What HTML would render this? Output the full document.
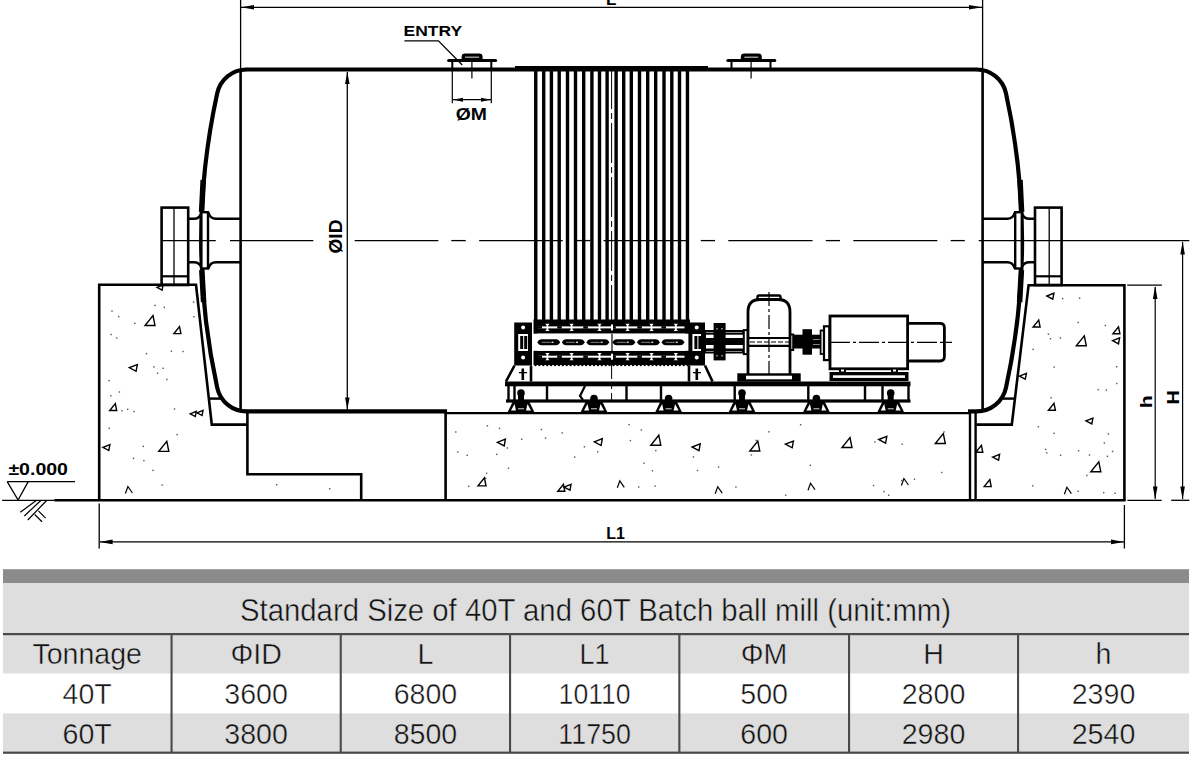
<!DOCTYPE html>
<html><head><meta charset="utf-8"><style>
html,body{margin:0;padding:0;background:#fff;width:1200px;height:760px;overflow:hidden}
svg{position:absolute;left:0;top:0;display:block}
text{font-family:"Liberation Sans",sans-serif}
</style></head><body>
<svg width="1200" height="760" viewBox="0 0 1200 760">
<line x1="240.6" y1="0" x2="240.6" y2="69" stroke="#000" stroke-width="1.3" />
<line x1="982.6" y1="0" x2="982.6" y2="69" stroke="#000" stroke-width="1.3" />
<line x1="241" y1="7.3" x2="982" y2="7.3" stroke="#000" stroke-width="1.3" />
<polygon points="241.0,7.3 254.0,5.1 254.0,9.5" fill="#000"/>
<polygon points="982.0,7.3 969.0,5.1 969.0,9.5" fill="#000"/>
<text x="606" y="4.7" font-family="Liberation Sans" font-weight="bold" font-size="17">L</text>
<g><path d="M 247 69.5 A 30 30 0 0 0 217.2 93.4 A 690 690 0 0 0 217.2 387.6 A 30 30 0 0 0 247 411.4" stroke="#000" stroke-width="4.2" fill="none"/>
<line x1="240.6" y1="69" x2="240.6" y2="411" stroke="#000" stroke-width="2.6"/>
<path d="M 240.6 218.8 L 216 218.8 Q 210 218.8 208.5 212.5 M 240.6 262.2 L 216 262.2 Q 210 262.2 208.5 268.5" stroke="#000" stroke-width="2.4" fill="none"/>
<rect x="201.4" y="212.2" width="6.6" height="56.3" fill="#fff" stroke="#000" stroke-width="2.4"/>
<path d="M 188.2 218.8 L 194 218.8 Q 199 218.8 201 214 M 188.2 262.2 L 194 262.2 Q 199 262.2 201 266.5" stroke="#000" stroke-width="2.4" fill="none"/>
<rect x="161.6" y="207.6" width="26.6" height="77.4" fill="none" stroke="#000" stroke-width="2.6"/>
<line x1="174" y1="207.6" x2="174" y2="285" stroke="#000" stroke-width="1.3"/>
<line x1="161.6" y1="276.3" x2="188.2" y2="276.3" stroke="#000" stroke-width="2.2"/>
<path d="M 203.2 180 L 201.6 212 M 201.8 270 L 203.6 302" stroke="#000" stroke-width="5.5" fill="none"/></g>
<g transform="translate(1223.2,0) scale(-1,1)"><path d="M 247 69.5 A 30 30 0 0 0 217.2 93.4 A 690 690 0 0 0 217.2 387.6 A 30 30 0 0 0 247 411.4" stroke="#000" stroke-width="4.2" fill="none"/>
<line x1="240.6" y1="69" x2="240.6" y2="411" stroke="#000" stroke-width="2.6"/>
<path d="M 240.6 218.8 L 216 218.8 Q 210 218.8 208.5 212.5 M 240.6 262.2 L 216 262.2 Q 210 262.2 208.5 268.5" stroke="#000" stroke-width="2.4" fill="none"/>
<rect x="201.4" y="212.2" width="6.6" height="56.3" fill="#fff" stroke="#000" stroke-width="2.4"/>
<path d="M 188.2 218.8 L 194 218.8 Q 199 218.8 201 214 M 188.2 262.2 L 194 262.2 Q 199 262.2 201 266.5" stroke="#000" stroke-width="2.4" fill="none"/>
<rect x="161.6" y="207.6" width="26.6" height="77.4" fill="none" stroke="#000" stroke-width="2.6"/>
<line x1="174" y1="207.6" x2="174" y2="285" stroke="#000" stroke-width="1.3"/>
<line x1="161.6" y1="276.3" x2="188.2" y2="276.3" stroke="#000" stroke-width="2.2"/>
<path d="M 203.2 180 L 201.6 212 M 201.8 270 L 203.6 302" stroke="#000" stroke-width="5.5" fill="none"/></g>
<line x1="246.5" y1="69.5" x2="976.7" y2="69.5" stroke="#000" stroke-width="4.2" />
<line x1="246.5" y1="411.4" x2="447" y2="411.4" stroke="#000" stroke-width="4.2" />
<line x1="968" y1="411.4" x2="976.7" y2="411.4" stroke="#000" stroke-width="4.2" />
<line x1="445" y1="413.1" x2="970" y2="413.1" stroke="#000" stroke-width="2.4" />
<rect x="515" y="66" width="193" height="2.5" fill="#000" stroke="none" stroke-width="0" />
<line x1="161.7" y1="240.6" x2="215.8" y2="240.6" stroke="#000" stroke-width="1.3" />
<line x1="230" y1="240.6" x2="313.3" y2="240.6" stroke="#000" stroke-width="1.3" />
<line x1="354.7" y1="240.6" x2="438.3" y2="240.6" stroke="#000" stroke-width="1.3" />
<line x1="451.3" y1="240.6" x2="465.8" y2="240.6" stroke="#000" stroke-width="1.3" />
<line x1="479.2" y1="240.6" x2="562.7" y2="240.6" stroke="#000" stroke-width="1.3" />
<line x1="576" y1="240.6" x2="590" y2="240.6" stroke="#000" stroke-width="1.3" />
<line x1="603.5" y1="240.6" x2="687" y2="240.6" stroke="#000" stroke-width="1.3" />
<line x1="700.8" y1="240.6" x2="715" y2="240.6" stroke="#000" stroke-width="1.3" />
<line x1="728.3" y1="240.6" x2="812.5" y2="240.6" stroke="#000" stroke-width="1.3" />
<line x1="825.8" y1="240.6" x2="840" y2="240.6" stroke="#000" stroke-width="1.3" />
<line x1="853.3" y1="240.6" x2="937.3" y2="240.6" stroke="#000" stroke-width="1.3" />
<line x1="950.7" y1="240.6" x2="964.8" y2="240.6" stroke="#000" stroke-width="1.3" />
<line x1="978.7" y1="240.6" x2="1189.3" y2="240.6" stroke="#000" stroke-width="1.3" />
<line x1="347.3" y1="72" x2="347.3" y2="411" stroke="#000" stroke-width="1.3" />
<polygon points="347.3,72.0 345.0,84.0 349.6,84.0" fill="#000"/>
<polygon points="347.3,409.5 345.0,397.5 349.6,397.5" fill="#000"/>
<text transform="translate(342,253.5) rotate(-90)" font-family="Liberation Sans" font-weight="bold" font-size="18" textLength="34" lengthAdjust="spacingAndGlyphs">ØID</text>
<rect x="447.1" y="59" width="50" height="3" rx="1.5" fill="#000"/>
<path d="M 461.6 60 L 461.6 57 Q 461.6 53.6 465.1 53.6 L 479.1 53.6 Q 482.6 53.6 482.6 57 L 482.6 60 Z" fill="#000"/>
<rect x="465.1" y="56.6" width="14" height="1.2" fill="#bbb"/>
<line x1="452.3" y1="61" x2="452.3" y2="69" stroke="#000" stroke-width="2"/>
<line x1="491.3" y1="61" x2="491.3" y2="69" stroke="#000" stroke-width="2"/>
<line x1="471.90000000000003" y1="62" x2="471.90000000000003" y2="78.5" stroke="#000" stroke-width="1.2"/>
<rect x="726.3" y="59" width="50" height="3" rx="1.5" fill="#000"/>
<path d="M 740.8 60 L 740.8 57 Q 740.8 53.6 744.3 53.6 L 758.3 53.6 Q 761.8 53.6 761.8 57 L 761.8 60 Z" fill="#000"/>
<rect x="744.3" y="56.6" width="14" height="1.2" fill="#bbb"/>
<line x1="731.5" y1="61" x2="731.5" y2="69" stroke="#000" stroke-width="2"/>
<line x1="770.5" y1="61" x2="770.5" y2="69" stroke="#000" stroke-width="2"/>
<line x1="751.0999999999999" y1="62" x2="751.0999999999999" y2="78.5" stroke="#000" stroke-width="1.2"/>
<text x="403.6" y="35.6" font-family="Liberation Sans" font-weight="bold" font-size="14.5" textLength="58.5" lengthAdjust="spacingAndGlyphs">ENTRY</text>
<path d="M 404.4 40.8 L 438.4 40.8 L 462.3 65" stroke="#000" stroke-width="1.3" fill="none" />
<line x1="452.3" y1="71" x2="452.3" y2="103.3" stroke="#000" stroke-width="1.2" />
<line x1="491.3" y1="71" x2="491.3" y2="103.3" stroke="#000" stroke-width="1.2" />
<line x1="453" y1="99.7" x2="491" y2="99.7" stroke="#000" stroke-width="1.2" />
<polygon points="453.0,99.7 463.0,97.7 463.0,101.7" fill="#000"/>
<polygon points="491.0,99.7 481.0,97.7 481.0,101.7" fill="#000"/>
<text x="455.8" y="119.6" font-family="Liberation Sans" font-weight="bold" font-size="16.2" textLength="31.2" lengthAdjust="spacingAndGlyphs">ØM</text>
<rect x="534.05" y="69" width="3.4" height="251" fill="#000" stroke="none" stroke-width="0" />
<rect x="685.75" y="69" width="3.4" height="251" fill="#000" stroke="none" stroke-width="0" />
<rect x="542.0" y="69" width="3.4" height="251" fill="#000" stroke="none" stroke-width="0" />
<rect x="677.8" y="69" width="3.4" height="251" fill="#000" stroke="none" stroke-width="0" />
<rect x="549.6999999999999" y="69" width="3.4" height="251" fill="#000" stroke="none" stroke-width="0" />
<rect x="670.1" y="69" width="3.4" height="251" fill="#000" stroke="none" stroke-width="0" />
<rect x="557.5" y="69" width="3.4" height="251" fill="#000" stroke="none" stroke-width="0" />
<rect x="662.3" y="69" width="3.4" height="251" fill="#000" stroke="none" stroke-width="0" />
<rect x="565.8" y="69" width="3.4" height="251" fill="#000" stroke="none" stroke-width="0" />
<rect x="654.0" y="69" width="3.4" height="251" fill="#000" stroke="none" stroke-width="0" />
<rect x="573.8" y="69" width="3.4" height="251" fill="#000" stroke="none" stroke-width="0" />
<rect x="646.0" y="69" width="3.4" height="251" fill="#000" stroke="none" stroke-width="0" />
<rect x="582.0" y="69" width="3.4" height="251" fill="#000" stroke="none" stroke-width="0" />
<rect x="637.8" y="69" width="3.4" height="251" fill="#000" stroke="none" stroke-width="0" />
<rect x="590.1999999999999" y="69" width="3.4" height="251" fill="#000" stroke="none" stroke-width="0" />
<rect x="629.6" y="69" width="3.4" height="251" fill="#000" stroke="none" stroke-width="0" />
<rect x="597.8" y="69" width="3.4" height="251" fill="#000" stroke="none" stroke-width="0" />
<rect x="622.0" y="69" width="3.4" height="251" fill="#000" stroke="none" stroke-width="0" />
<rect x="605.4" y="69" width="3.4" height="251" fill="#000" stroke="none" stroke-width="0" />
<rect x="614.4" y="69" width="3.4" height="251" fill="#000" stroke="none" stroke-width="0" />
<line x1="611.6" y1="69" x2="611.6" y2="400" stroke="#000" stroke-width="1" stroke-dasharray="40 4 6 4"/>
<rect x="533.5" y="319.5" width="156.5" height="14.2" fill="#000" stroke="none" stroke-width="0" />
<rect x="533.5" y="350.8" width="156.5" height="14.2" fill="#000" stroke="none" stroke-width="0" />
<rect x="538" y="326.4" width="146.5" height="2.0" fill="#fff" stroke="none" stroke-width="0" />
<rect x="557.2" y="326.2" width="4.6" height="2.4" fill="#000" stroke="none" stroke-width="0" />
<rect x="583.25" y="326.2" width="4.6" height="2.4" fill="#000" stroke="none" stroke-width="0" />
<rect x="611.25" y="326.2" width="4.6" height="2.4" fill="#000" stroke="none" stroke-width="0" />
<rect x="637.25" y="326.2" width="4.6" height="2.4" fill="#000" stroke="none" stroke-width="0" />
<rect x="661.35" y="326.2" width="4.6" height="2.4" fill="#000" stroke="none" stroke-width="0" />
<rect x="536" y="326.2" width="6" height="2.4" fill="#000" stroke="none" stroke-width="0" />
<path d="M 545.1999999999999 323.79999999999995 L 549.6 323.79999999999995 L 548.3 325.2 L 548.3 329.59999999999997 L 549.6 331.0 L 545.1999999999999 331.0 L 546.5 329.59999999999997 L 546.5 325.2 Z" fill="#fff"/>
<path d="M 569.4 323.79999999999995 L 573.8000000000001 323.79999999999995 L 572.5 325.2 L 572.5 329.59999999999997 L 573.8000000000001 331.0 L 569.4 331.0 L 570.7 329.59999999999997 L 570.7 325.2 Z" fill="#fff"/>
<path d="M 597.3 323.79999999999995 L 601.7 323.79999999999995 L 600.4 325.2 L 600.4 329.59999999999997 L 601.7 331.0 L 597.3 331.0 L 598.6 329.59999999999997 L 598.6 325.2 Z" fill="#fff"/>
<path d="M 625.4 323.79999999999995 L 629.8000000000001 323.79999999999995 L 628.5 325.2 L 628.5 329.59999999999997 L 629.8000000000001 331.0 L 625.4 331.0 L 626.7 329.59999999999997 L 626.7 325.2 Z" fill="#fff"/>
<path d="M 649.3 323.79999999999995 L 653.7 323.79999999999995 L 652.4 325.2 L 652.4 329.59999999999997 L 653.7 331.0 L 649.3 331.0 L 650.6 329.59999999999997 L 650.6 325.2 Z" fill="#fff"/>
<path d="M 673.5999999999999 323.79999999999995 L 678.0 323.79999999999995 L 676.6999999999999 325.2 L 676.6999999999999 329.59999999999997 L 678.0 331.0 L 673.5999999999999 331.0 L 674.9 329.59999999999997 L 674.9 325.2 Z" fill="#fff"/>
<rect x="611" y="324.4" width="2" height="6" fill="#fff" stroke="none" stroke-width="0" />
<rect x="538" y="355.7" width="146.5" height="2.0" fill="#fff" stroke="none" stroke-width="0" />
<rect x="557.2" y="355.5" width="4.6" height="2.4" fill="#000" stroke="none" stroke-width="0" />
<rect x="583.25" y="355.5" width="4.6" height="2.4" fill="#000" stroke="none" stroke-width="0" />
<rect x="611.25" y="355.5" width="4.6" height="2.4" fill="#000" stroke="none" stroke-width="0" />
<rect x="637.25" y="355.5" width="4.6" height="2.4" fill="#000" stroke="none" stroke-width="0" />
<rect x="661.35" y="355.5" width="4.6" height="2.4" fill="#000" stroke="none" stroke-width="0" />
<rect x="536" y="355.5" width="6" height="2.4" fill="#000" stroke="none" stroke-width="0" />
<path d="M 545.1999999999999 353.09999999999997 L 549.6 353.09999999999997 L 548.3 354.5 L 548.3 358.9 L 549.6 360.3 L 545.1999999999999 360.3 L 546.5 358.9 L 546.5 354.5 Z" fill="#fff"/>
<path d="M 569.4 353.09999999999997 L 573.8000000000001 353.09999999999997 L 572.5 354.5 L 572.5 358.9 L 573.8000000000001 360.3 L 569.4 360.3 L 570.7 358.9 L 570.7 354.5 Z" fill="#fff"/>
<path d="M 597.3 353.09999999999997 L 601.7 353.09999999999997 L 600.4 354.5 L 600.4 358.9 L 601.7 360.3 L 597.3 360.3 L 598.6 358.9 L 598.6 354.5 Z" fill="#fff"/>
<path d="M 625.4 353.09999999999997 L 629.8000000000001 353.09999999999997 L 628.5 354.5 L 628.5 358.9 L 629.8000000000001 360.3 L 625.4 360.3 L 626.7 358.9 L 626.7 354.5 Z" fill="#fff"/>
<path d="M 649.3 353.09999999999997 L 653.7 353.09999999999997 L 652.4 354.5 L 652.4 358.9 L 653.7 360.3 L 649.3 360.3 L 650.6 358.9 L 650.6 354.5 Z" fill="#fff"/>
<path d="M 673.5999999999999 353.09999999999997 L 678.0 353.09999999999997 L 676.6999999999999 354.5 L 676.6999999999999 358.9 L 678.0 360.3 L 673.5999999999999 360.3 L 674.9 358.9 L 674.9 354.5 Z" fill="#fff"/>
<rect x="611" y="353.7" width="2" height="6" fill="#fff" stroke="none" stroke-width="0" />
<rect x="537" y="333.6" width="148.5" height="17.2" fill="#fff" stroke="none" stroke-width="0" />
<line x1="612" y1="334" x2="612" y2="351" stroke="#000" stroke-width="1.2" />
<path d="M 537.5 342.3 Q 538.5 339.3 541.5 339.3 L 556.0 339.3 Q 559.0 339.3 560.0 342.3 Q 559.0 345.3 556.0 345.3 L 541.5 345.3 Q 538.5 345.3 537.5 342.3 Z" fill="#000"/>
<rect x="541.5" y="341.8" width="9" height="1.1" fill="#777"/>
<rect x="551.5" y="341.6" width="2" height="1.4" fill="#ddd"/>
<path d="M 562.05 342.3 Q 563.05 339.3 566.05 339.3 L 580.55 339.3 Q 583.55 339.3 584.55 342.3 Q 583.55 345.3 580.55 345.3 L 566.05 345.3 Q 563.05 345.3 562.05 342.3 Z" fill="#000"/>
<rect x="566.05" y="341.8" width="9" height="1.1" fill="#777"/>
<rect x="576.05" y="341.6" width="2" height="1.4" fill="#ddd"/>
<path d="M 586.6 342.3 Q 587.6 339.3 590.6 339.3 L 605.1 339.3 Q 608.1 339.3 609.1 342.3 Q 608.1 345.3 605.1 345.3 L 590.6 345.3 Q 587.6 345.3 586.6 342.3 Z" fill="#000"/>
<rect x="590.6" y="341.8" width="9" height="1.1" fill="#777"/>
<rect x="600.6" y="341.6" width="2" height="1.4" fill="#ddd"/>
<path d="M 612.65 342.3 Q 613.65 339.3 616.65 339.3 L 631.15 339.3 Q 634.15 339.3 635.15 342.3 Q 634.15 345.3 631.15 345.3 L 616.65 345.3 Q 613.65 345.3 612.65 342.3 Z" fill="#000"/>
<rect x="616.65" y="341.8" width="9" height="1.1" fill="#777"/>
<rect x="626.65" y="341.6" width="2" height="1.4" fill="#ddd"/>
<path d="M 637.2 342.3 Q 638.2 339.3 641.2 339.3 L 655.7 339.3 Q 658.7 339.3 659.7 342.3 Q 658.7 345.3 655.7 345.3 L 641.2 345.3 Q 638.2 345.3 637.2 342.3 Z" fill="#000"/>
<rect x="641.2" y="341.8" width="9" height="1.1" fill="#777"/>
<rect x="651.2" y="341.6" width="2" height="1.4" fill="#ddd"/>
<path d="M 661.75 342.3 Q 662.75 339.3 665.75 339.3 L 680.25 339.3 Q 683.25 339.3 684.25 342.3 Q 683.25 345.3 680.25 345.3 L 665.75 345.3 Q 662.75 345.3 661.75 342.3 Z" fill="#000"/>
<rect x="665.75" y="341.8" width="9" height="1.1" fill="#777"/>
<rect x="675.75" y="341.6" width="2" height="1.4" fill="#ddd"/>
<circle cx="535.5" cy="365" r="1.2" fill="#000"/>
<circle cx="539.4" cy="365" r="1.2" fill="#000"/>
<circle cx="543.3" cy="365" r="1.2" fill="#000"/>
<circle cx="547.2" cy="365" r="1.2" fill="#000"/>
<circle cx="551.1" cy="365" r="1.2" fill="#000"/>
<circle cx="555.0" cy="365" r="1.2" fill="#000"/>
<circle cx="558.9" cy="365" r="1.2" fill="#000"/>
<circle cx="562.8" cy="365" r="1.2" fill="#000"/>
<circle cx="566.7" cy="365" r="1.2" fill="#000"/>
<circle cx="570.6" cy="365" r="1.2" fill="#000"/>
<circle cx="574.5" cy="365" r="1.2" fill="#000"/>
<circle cx="578.4" cy="365" r="1.2" fill="#000"/>
<circle cx="582.3" cy="365" r="1.2" fill="#000"/>
<circle cx="586.2" cy="365" r="1.2" fill="#000"/>
<circle cx="590.1" cy="365" r="1.2" fill="#000"/>
<circle cx="594.0" cy="365" r="1.2" fill="#000"/>
<circle cx="597.9" cy="365" r="1.2" fill="#000"/>
<circle cx="601.8" cy="365" r="1.2" fill="#000"/>
<circle cx="605.7" cy="365" r="1.2" fill="#000"/>
<circle cx="609.6" cy="365" r="1.2" fill="#000"/>
<circle cx="613.5" cy="365" r="1.2" fill="#000"/>
<circle cx="617.4" cy="365" r="1.2" fill="#000"/>
<circle cx="621.3" cy="365" r="1.2" fill="#000"/>
<circle cx="625.2" cy="365" r="1.2" fill="#000"/>
<circle cx="629.1" cy="365" r="1.2" fill="#000"/>
<circle cx="633.0" cy="365" r="1.2" fill="#000"/>
<circle cx="636.9" cy="365" r="1.2" fill="#000"/>
<circle cx="640.8" cy="365" r="1.2" fill="#000"/>
<circle cx="644.7" cy="365" r="1.2" fill="#000"/>
<circle cx="648.6" cy="365" r="1.2" fill="#000"/>
<circle cx="652.5" cy="365" r="1.2" fill="#000"/>
<circle cx="656.4" cy="365" r="1.2" fill="#000"/>
<circle cx="660.3" cy="365" r="1.2" fill="#000"/>
<circle cx="664.2" cy="365" r="1.2" fill="#000"/>
<circle cx="668.1" cy="365" r="1.2" fill="#000"/>
<circle cx="672.0" cy="365" r="1.2" fill="#000"/>
<circle cx="675.9" cy="365" r="1.2" fill="#000"/>
<circle cx="679.8" cy="365" r="1.2" fill="#000"/>
<circle cx="683.7" cy="365" r="1.2" fill="#000"/>
<circle cx="687.6" cy="365" r="1.2" fill="#000"/>
<rect x="514.2" y="322.5" width="17.799999999999955" height="43" fill="#000"/>
<rect x="518.2" y="334" width="9.799999999999955" height="17" fill="#fff"/>
<rect x="520.2" y="336" width="3" height="13" fill="#000"/>
<rect x="524.2" y="336" width="3" height="13" fill="#000"/>
<circle cx="523.1" cy="327.5" r="2" fill="#fff"/>
<circle cx="523.1" cy="357.5" r="2" fill="#fff"/>
<rect x="688.4" y="322.5" width="16.600000000000023" height="43" fill="#000"/>
<rect x="692.4" y="334" width="8.600000000000023" height="17" fill="#fff"/>
<rect x="694.4" y="336" width="3" height="13" fill="#000"/>
<rect x="698.4" y="336" width="3" height="13" fill="#000"/>
<circle cx="696.7" cy="327.5" r="2" fill="#fff"/>
<circle cx="696.7" cy="357.5" r="2" fill="#fff"/>
<path d="M 514.5 365.5 L 506 381.5 M 531 365.5 L 531 381.5" stroke="#000" stroke-width="2.6" fill="none" />
<rect x="521.5" y="368.5" width="2.6" height="11.5" fill="#000" stroke="none" stroke-width="0" />
<rect x="519" y="372" width="8" height="1.3" fill="#000" stroke="none" stroke-width="0" />
<path d="M 689 365.5 L 689 381.5 M 705 365.5 L 712.5 381.5" stroke="#000" stroke-width="2.6" fill="none" />
<rect x="695.5" y="368.5" width="2.6" height="11.5" fill="#000" stroke="none" stroke-width="0" />
<rect x="693" y="372" width="8" height="1.3" fill="#000" stroke="none" stroke-width="0" />
<rect x="705" y="330" width="38" height="23.5" fill="#000" stroke="none" stroke-width="0" />
<rect x="706" y="334.7" width="37" height="3.3" fill="#fff" stroke="none" stroke-width="0" />
<rect x="706" y="345" width="37" height="3.5" fill="#fff" stroke="none" stroke-width="0" />
<rect x="706" y="332.2" width="36" height="0.8" fill="#aaa" stroke="none" stroke-width="0" />
<rect x="706" y="351" width="36" height="0.8" fill="#aaa" stroke="none" stroke-width="0" />
<rect x="713.6" y="323" width="12" height="37.4" fill="#000" stroke="none" stroke-width="0" />
<rect x="719.2" y="334.7" width="1.4" height="3.3" fill="#000" stroke="none" stroke-width="0" />
<rect x="719.2" y="345" width="1.4" height="3.5" fill="#000" stroke="none" stroke-width="0" />
<rect x="716" y="328" width="2" height="1.5" fill="#777" stroke="none" stroke-width="0" />
<rect x="721" y="328" width="2" height="1.5" fill="#777" stroke="none" stroke-width="0" />
<rect x="716" y="355" width="2" height="1.5" fill="#777" stroke="none" stroke-width="0" />
<rect x="721" y="355" width="2" height="1.5" fill="#777" stroke="none" stroke-width="0" />
<rect x="743.8" y="330.1" width="4" height="24" fill="#fff" stroke="#000" stroke-width="2" />
<path d="M 748 374 L 748 312 Q 748 299.5 760 299.5 L 778 299.5 Q 790 299.5 790 312 L 790 374" stroke="#000" stroke-width="2.8" fill="none" />
<path d="M 757.5 299 L 757.5 297 Q 757.5 295.5 759 295.5 L 779 295.5 Q 780.5 295.5 780.5 297 L 780.5 299" stroke="#000" stroke-width="2.4" fill="none" />
<rect x="738.5" y="374.5" width="61" height="6" fill="#fff" stroke="#000" stroke-width="2.4" />
<rect x="738" y="374" width="8" height="7" fill="#000" stroke="none" stroke-width="0" />
<rect x="792" y="374" width="8" height="7" fill="#000" stroke="none" stroke-width="0" />
<line x1="748" y1="338" x2="790" y2="338" stroke="#000" stroke-width="2.2" />
<line x1="748" y1="345.8" x2="790" y2="345.8" stroke="#000" stroke-width="2.2" />
<line x1="750" y1="342" x2="790" y2="342" stroke="#000" stroke-width="1" stroke-dasharray="5 2"/>
<line x1="769" y1="292" x2="769" y2="374" stroke="#000" stroke-width="1.2" stroke-dasharray="14 3 3 3"/>
<rect x="790" y="334.5" width="3.2" height="15.5" fill="none" stroke="#000" stroke-width="2" />
<rect x="793" y="334.7" width="29" height="13.8" fill="#000" stroke="none" stroke-width="0" />
<rect x="802.5" y="329.2" width="9.5" height="25.5" fill="#000" stroke="none" stroke-width="0" />
<rect x="813" y="339" width="8" height="1" fill="#888" stroke="none" stroke-width="0" />
<rect x="813" y="344" width="8" height="1" fill="#888" stroke="none" stroke-width="0" />
<rect x="820.6" y="330.5" width="3.2" height="23.5" fill="#fff" stroke="#000" stroke-width="1.8" />
<rect x="824" y="326.3" width="5.4" height="33.8" fill="#fff" stroke="#000" stroke-width="2.2" />
<rect x="830" y="316" width="77.6" height="52.8" fill="none" stroke="#000" stroke-width="2.8" />
<path d="M 907.6 323.4 L 940 323.4 Q 944.4 323.4 944.4 327.8 L 944.4 356.6 Q 944.4 361 940 361 L 907.6 361" stroke="#000" stroke-width="2.8" fill="none" />
<line x1="830" y1="342.3" x2="952" y2="342.3" stroke="#000" stroke-width="1.3" stroke-dasharray="20 3 3 3"/>
<rect x="829.5" y="372" width="79" height="9" fill="#000" stroke="none" stroke-width="0" />
<rect x="833" y="375.3" width="72" height="2.6" fill="#fff" stroke="none" stroke-width="0" />
<rect x="839" y="368" width="7" height="4.5" fill="#000" stroke="none" stroke-width="0" />
<rect x="891" y="368" width="7" height="4.5" fill="#000" stroke="none" stroke-width="0" />
<rect x="841" y="369.5" width="3" height="2" fill="#fff" stroke="none" stroke-width="0" />
<rect x="893" y="369.5" width="3" height="2" fill="#fff" stroke="none" stroke-width="0" />
<rect x="505" y="381.5" width="405.5" height="4.8" fill="#000" stroke="none" stroke-width="0" />
<rect x="506" y="399.4" width="404.5" height="3.2" fill="#000" stroke="none" stroke-width="0" />
<rect x="507.3" y="386" width="2.4" height="14" fill="#000" stroke="none" stroke-width="0" />
<rect x="513.3" y="386" width="2.4" height="14" fill="#000" stroke="none" stroke-width="0" />
<rect x="545.8" y="386" width="2.4" height="14" fill="#000" stroke="none" stroke-width="0" />
<rect x="625.3" y="386" width="2.4" height="14" fill="#000" stroke="none" stroke-width="0" />
<rect x="659.8" y="386" width="2.4" height="14" fill="#000" stroke="none" stroke-width="0" />
<rect x="733.5" y="386" width="2.4" height="14" fill="#000" stroke="none" stroke-width="0" />
<rect x="807.0999999999999" y="386" width="2.4" height="14" fill="#000" stroke="none" stroke-width="0" />
<rect x="863.8" y="386" width="2.4" height="14" fill="#000" stroke="none" stroke-width="0" />
<rect x="881.3" y="386" width="2.4" height="14" fill="#000" stroke="none" stroke-width="0" />
<rect x="907.3" y="386" width="2.4" height="14" fill="#000" stroke="none" stroke-width="0" />
<path d="M 585 386 L 580 396 L 583 400" stroke="#000" stroke-width="2.2" fill="none" />
<polygon points="507.5,412.5 513,401 529,401 534.5,412.5" fill="#000"/>
<polygon points="511,410.5 514.5,404 516,410.5" fill="#fff"/>
<polygon points="531,410.5 527.5,404 526,410.5" fill="#fff"/>
<circle cx="521" cy="393" r="3.8" fill="#000"/>
<rect x="518" y="393" width="6" height="9" fill="#000"/>
<rect x="518" y="408" width="6" height="1.4" fill="#999"/>
<polygon points="580.5,412.5 586,401 602,401 607.5,412.5" fill="#000"/>
<polygon points="584,410.5 587.5,404 589,410.5" fill="#fff"/>
<polygon points="604,410.5 600.5,404 599,410.5" fill="#fff"/>
<circle cx="594" cy="398.5" r="3.8" fill="#000"/>
<rect x="591" y="398.5" width="6" height="3.5" fill="#000"/>
<rect x="591" y="408" width="6" height="1.4" fill="#999"/>
<polygon points="655.1,412.5 660.6,401 676.6,401 682.1,412.5" fill="#000"/>
<polygon points="658.6,410.5 662.1,404 663.6,410.5" fill="#fff"/>
<polygon points="678.6,410.5 675.1,404 673.6,410.5" fill="#fff"/>
<circle cx="668.6" cy="398.5" r="3.8" fill="#000"/>
<rect x="665.6" y="398.5" width="6" height="3.5" fill="#000"/>
<rect x="665.6" y="408" width="6" height="1.4" fill="#999"/>
<polygon points="728.5,412.5 734,401 750,401 755.5,412.5" fill="#000"/>
<polygon points="732,410.5 735.5,404 737,410.5" fill="#fff"/>
<polygon points="752,410.5 748.5,404 747,410.5" fill="#fff"/>
<circle cx="742" cy="393" r="3.8" fill="#000"/>
<rect x="739" y="393" width="6" height="9" fill="#000"/>
<rect x="739" y="408" width="6" height="1.4" fill="#999"/>
<polygon points="802.9,412.5 808.4,401 824.4,401 829.9,412.5" fill="#000"/>
<polygon points="806.4,410.5 809.9,404 811.4,410.5" fill="#fff"/>
<polygon points="826.4,410.5 822.9,404 821.4,410.5" fill="#fff"/>
<circle cx="816.4" cy="398.5" r="3.8" fill="#000"/>
<rect x="813.4" y="398.5" width="6" height="3.5" fill="#000"/>
<rect x="813.4" y="408" width="6" height="1.4" fill="#999"/>
<polygon points="877.2,412.5 882.7,401 898.7,401 904.2,412.5" fill="#000"/>
<polygon points="880.7,410.5 884.2,404 885.7,410.5" fill="#fff"/>
<polygon points="900.7,410.5 897.2,404 895.7,410.5" fill="#fff"/>
<circle cx="890.7" cy="393" r="3.8" fill="#000"/>
<rect x="887.7" y="393" width="6" height="9" fill="#000"/>
<rect x="887.7" y="408" width="6" height="1.4" fill="#999"/>
<path d="M 99.2 501 L 99.2 284.8 L 196 284.8 L 211.8 424.6 L 247.5 424.6" stroke="#000" stroke-width="2.6" fill="none" />
<line x1="208.5" y1="398.6" x2="221" y2="398.6" stroke="#000" stroke-width="2.4" />
<path d="M 247.4 412 L 247.4 474.2 L 361.2 474.2 L 361.2 501" stroke="#000" stroke-width="2.6" fill="none" />
<line x1="445.6" y1="412" x2="445.6" y2="501" stroke="#000" stroke-width="2.6" />
<path d="M 1124.4 501 L 1124.4 285.2 L 1028.6 285.2 L 1011.8 424.6 L 976.3 424.6" stroke="#000" stroke-width="2.6" fill="none" />
<line x1="1002" y1="398.6" x2="1014.5" y2="398.6" stroke="#000" stroke-width="2.4" />
<line x1="970.0" y1="412" x2="970.0" y2="501" stroke="#000" stroke-width="2.4" />
<line x1="975.6" y1="412" x2="975.6" y2="501" stroke="#000" stroke-width="2.4" />
<line x1="54.3" y1="500.3" x2="1125.5" y2="500.3" stroke="#000" stroke-width="2.6" />
<line x1="2.2" y1="500.3" x2="54.3" y2="500.3" stroke="#000" stroke-width="1.3" />
<polygon points="145.0,325.5 155.0,325.5 153.0,315.5" stroke="#000" stroke-width="1.4" fill="none"/>
<polygon points="173.9,333.6 180.9,333.6 179.5,326.6" stroke="#000" stroke-width="1.4" fill="none"/>
<polygon points="129.3,367.7 137.3,364.5 136.1,371.3" stroke="#000" stroke-width="1.4" fill="none"/>
<polygon points="109.7,410.5 116.7,410.5 115.3,403.5" stroke="#000" stroke-width="1.4" fill="none"/>
<polygon points="158.8,451.4 168.8,451.4 166.8,441.4" stroke="#000" stroke-width="1.4" fill="none"/>
<polygon points="102.9,447.4 109.9,444.6 108.8,450.5" stroke="#000" stroke-width="1.4" fill="none"/>
<polygon points="190.2,413.8 196.2,411.4 195.3,416.5" stroke="#000" stroke-width="1.4" fill="none"/>
<polygon points="197.0,412.8 203.0,410.4 202.1,415.5" stroke="#000" stroke-width="1.4" fill="none"/>
<path d="M 125.4 493.5 L 127.9 486.5 L 132.4 493" stroke="#000" stroke-width="1.2" fill="none"/>
<polygon points="157.0,287.4 163.0,285.0 162.1,290.1" stroke="#000" stroke-width="1.4" fill="none"/>
<polygon points="497.4,442.3 505.4,439.1 504.2,445.9" stroke="#000" stroke-width="1.4" fill="none"/>
<polygon points="478.0,485.9 486.0,485.9 484.4,477.9" stroke="#000" stroke-width="1.4" fill="none"/>
<polygon points="557.8,491.3 564.8,491.3 563.4,484.3" stroke="#000" stroke-width="1.4" fill="none"/>
<polygon points="564.0,487.1 571.0,484.3 570.0,490.2" stroke="#000" stroke-width="1.4" fill="none"/>
<polygon points="594.3,441.9 602.3,438.7 601.1,445.5" stroke="#000" stroke-width="1.4" fill="none"/>
<polygon points="650.8,445.2 660.8,445.2 658.8,435.2" stroke="#000" stroke-width="1.4" fill="none"/>
<path d="M 617.3 487.8 L 619.8 480.8 L 624.3 487.3" stroke="#000" stroke-width="1.2" fill="none"/>
<polygon points="692.2,447.0 700.2,443.8 699.0,450.6" stroke="#000" stroke-width="1.4" fill="none"/>
<polygon points="749.8,451.0 759.8,451.0 757.8,441.0" stroke="#000" stroke-width="1.4" fill="none"/>
<polygon points="785.4,444.2 793.4,441.0 792.2,447.8" stroke="#000" stroke-width="1.4" fill="none"/>
<polygon points="842.0,447.5 852.0,447.5 850.0,437.5" stroke="#000" stroke-width="1.4" fill="none"/>
<polygon points="878.8,439.5 886.8,436.3 885.6,443.1" stroke="#000" stroke-width="1.4" fill="none"/>
<polygon points="935.3,443.5 945.3,443.5 943.3,433.5" stroke="#000" stroke-width="1.4" fill="none"/>
<path d="M 715.2 493.7 L 717.7 486.7 L 722.2 493.2" stroke="#000" stroke-width="1.2" fill="none"/>
<path d="M 808.0 490.2 L 810.5 483.2 L 815.0 489.7" stroke="#000" stroke-width="1.2" fill="none"/>
<path d="M 901.4 485.5 L 903.9 478.5 L 908.4 485" stroke="#000" stroke-width="1.2" fill="none"/>
<polygon points="1046.9,296.0 1053.9,293.2 1052.8,299.1" stroke="#000" stroke-width="1.4" fill="none"/>
<polygon points="1033.1,327.0 1040.1,327.0 1038.7,320.0" stroke="#000" stroke-width="1.4" fill="none"/>
<polygon points="1076.3,345.8 1086.3,345.8 1084.3,335.8" stroke="#000" stroke-width="1.4" fill="none"/>
<polygon points="1112.9,333.8 1119.9,333.8 1118.5,326.8" stroke="#000" stroke-width="1.4" fill="none"/>
<polygon points="1112.6,340.6 1119.6,337.8 1118.5,343.8" stroke="#000" stroke-width="1.4" fill="none"/>
<polygon points="1019.4,376.1 1026.4,373.3 1025.3,379.2" stroke="#000" stroke-width="1.4" fill="none"/>
<polygon points="1048.4,410.3 1055.4,410.3 1054.0,403.3" stroke="#000" stroke-width="1.4" fill="none"/>
<polygon points="1085.9,420.8 1092.9,418.0 1091.8,423.9" stroke="#000" stroke-width="1.4" fill="none"/>
<polygon points="1090.8,471.8 1100.8,471.8 1098.8,461.8" stroke="#000" stroke-width="1.4" fill="none"/>
<polygon points="975.8,452.3 982.8,452.3 981.4,445.3" stroke="#000" stroke-width="1.4" fill="none"/>
<polygon points="992.6,457.1 999.6,454.3 998.6,460.2" stroke="#000" stroke-width="1.4" fill="none"/>
<polygon points="984.2,486.6 991.2,486.6 989.8,479.6" stroke="#000" stroke-width="1.4" fill="none"/>
<path d="M 1064.4 494.2 L 1066.9 487.2 L 1071.4 493.7" stroke="#000" stroke-width="1.2" fill="none"/>
<rect x="134.1" y="322.6" width="1.4" height="1.4" fill="#555"/>
<rect x="163.6" y="306.7" width="1.4" height="1.4" fill="#555"/>
<rect x="153.2" y="366.2" width="1.4" height="1.4" fill="#555"/>
<rect x="110.2" y="395.0" width="1.4" height="1.4" fill="#555"/>
<rect x="108.4" y="380.0" width="1.4" height="1.4" fill="#555"/>
<rect x="111.3" y="310.4" width="1.4" height="1.4" fill="#555"/>
<rect x="143.2" y="459.9" width="1.4" height="1.4" fill="#555"/>
<rect x="116.1" y="337.3" width="1.4" height="1.4" fill="#555"/>
<rect x="161.5" y="484.4" width="1.4" height="1.4" fill="#555"/>
<rect x="156.9" y="372.5" width="1.4" height="1.4" fill="#555"/>
<rect x="192.9" y="301.5" width="1.4" height="1.4" fill="#555"/>
<rect x="182.3" y="350.8" width="1.4" height="1.4" fill="#555"/>
<rect x="118.0" y="315.9" width="1.4" height="1.4" fill="#555"/>
<rect x="132.8" y="457.7" width="1.4" height="1.4" fill="#555"/>
<rect x="121.3" y="410.1" width="1.4" height="1.4" fill="#555"/>
<rect x="162.5" y="367.6" width="1.4" height="1.4" fill="#555"/>
<rect x="154.3" y="304.7" width="1.4" height="1.4" fill="#555"/>
<rect x="110.4" y="333.8" width="1.4" height="1.4" fill="#555"/>
<rect x="166.2" y="378.8" width="1.4" height="1.4" fill="#555"/>
<rect x="133.3" y="410.9" width="1.4" height="1.4" fill="#555"/>
<rect x="145.8" y="352.9" width="1.4" height="1.4" fill="#555"/>
<rect x="176.5" y="433.9" width="1.4" height="1.4" fill="#555"/>
<rect x="127.0" y="408.6" width="1.4" height="1.4" fill="#555"/>
<rect x="152.3" y="469.7" width="1.4" height="1.4" fill="#555"/>
<rect x="170.7" y="350.5" width="1.4" height="1.4" fill="#555"/>
<rect x="193.2" y="316.0" width="1.4" height="1.4" fill="#555"/>
<rect x="142.6" y="445.7" width="1.4" height="1.4" fill="#555"/>
<rect x="118.7" y="391.3" width="1.4" height="1.4" fill="#555"/>
<rect x="108.5" y="427.6" width="1.4" height="1.4" fill="#555"/>
<rect x="173.8" y="408.3" width="1.4" height="1.4" fill="#555"/>
<rect x="276.0" y="484.0" width="1.4" height="1.4" fill="#555"/>
<rect x="329.0" y="488.0" width="1.4" height="1.4" fill="#555"/>
<rect x="901.5" y="443.5" width="1.4" height="1.4" fill="#555"/>
<rect x="809.6" y="464.6" width="1.4" height="1.4" fill="#555"/>
<rect x="750.7" y="454.2" width="1.4" height="1.4" fill="#555"/>
<rect x="883.4" y="490.9" width="1.4" height="1.4" fill="#555"/>
<rect x="696.8" y="469.8" width="1.4" height="1.4" fill="#555"/>
<rect x="485.9" y="472.6" width="1.4" height="1.4" fill="#555"/>
<rect x="785.0" y="494.5" width="1.4" height="1.4" fill="#555"/>
<rect x="874.2" y="441.3" width="1.4" height="1.4" fill="#555"/>
<rect x="651.8" y="470.1" width="1.4" height="1.4" fill="#555"/>
<rect x="466.5" y="454.6" width="1.4" height="1.4" fill="#555"/>
<rect x="540.7" y="428.8" width="1.4" height="1.4" fill="#555"/>
<rect x="485.1" y="477.6" width="1.4" height="1.4" fill="#555"/>
<rect x="521.0" y="438.6" width="1.4" height="1.4" fill="#555"/>
<rect x="654.4" y="485.4" width="1.4" height="1.4" fill="#555"/>
<rect x="496.1" y="453.7" width="1.4" height="1.4" fill="#555"/>
<rect x="735.2" y="486.3" width="1.4" height="1.4" fill="#555"/>
<rect x="872.8" y="484.8" width="1.4" height="1.4" fill="#555"/>
<rect x="597.0" y="451.1" width="1.4" height="1.4" fill="#555"/>
<rect x="638.0" y="486.3" width="1.4" height="1.4" fill="#555"/>
<rect x="943.4" y="431.3" width="1.4" height="1.4" fill="#555"/>
<rect x="544.9" y="437.4" width="1.4" height="1.4" fill="#555"/>
<rect x="574.0" y="456.4" width="1.4" height="1.4" fill="#555"/>
<rect x="755.5" y="439.7" width="1.4" height="1.4" fill="#555"/>
<rect x="457.1" y="451.4" width="1.4" height="1.4" fill="#555"/>
<rect x="643.3" y="462.5" width="1.4" height="1.4" fill="#555"/>
<rect x="941.1" y="471.8" width="1.4" height="1.4" fill="#555"/>
<rect x="717.9" y="466.3" width="1.4" height="1.4" fill="#555"/>
<rect x="799.9" y="424.0" width="1.4" height="1.4" fill="#555"/>
<rect x="913.8" y="478.5" width="1.4" height="1.4" fill="#555"/>
<rect x="901.0" y="479.8" width="1.4" height="1.4" fill="#555"/>
<rect x="655.1" y="449.9" width="1.4" height="1.4" fill="#555"/>
<rect x="507.8" y="467.6" width="1.4" height="1.4" fill="#555"/>
<rect x="486.7" y="425.1" width="1.4" height="1.4" fill="#555"/>
<rect x="561.5" y="432.2" width="1.4" height="1.4" fill="#555"/>
<rect x="628.4" y="423.9" width="1.4" height="1.4" fill="#555"/>
<rect x="455.1" y="431.3" width="1.4" height="1.4" fill="#555"/>
<rect x="506.7" y="447.3" width="1.4" height="1.4" fill="#555"/>
<rect x="468.0" y="485.6" width="1.4" height="1.4" fill="#555"/>
<rect x="768.2" y="431.1" width="1.4" height="1.4" fill="#555"/>
<rect x="583.7" y="446.1" width="1.4" height="1.4" fill="#555"/>
<rect x="640.7" y="429.2" width="1.4" height="1.4" fill="#555"/>
<rect x="888.0" y="494.5" width="1.4" height="1.4" fill="#555"/>
<rect x="692.7" y="456.3" width="1.4" height="1.4" fill="#555"/>
<rect x="498.8" y="427.7" width="1.4" height="1.4" fill="#555"/>
<rect x="629.7" y="439.9" width="1.4" height="1.4" fill="#555"/>
<rect x="1104.6" y="324.8" width="1.4" height="1.4" fill="#555"/>
<rect x="1032.1" y="485.1" width="1.4" height="1.4" fill="#555"/>
<rect x="1077.5" y="321.8" width="1.4" height="1.4" fill="#555"/>
<rect x="1078.9" y="297.5" width="1.4" height="1.4" fill="#555"/>
<rect x="1077.5" y="490.6" width="1.4" height="1.4" fill="#555"/>
<rect x="1107.7" y="433.3" width="1.4" height="1.4" fill="#555"/>
<rect x="1053.5" y="366.4" width="1.4" height="1.4" fill="#555"/>
<rect x="1045.0" y="448.7" width="1.4" height="1.4" fill="#555"/>
<rect x="1077.9" y="450.1" width="1.4" height="1.4" fill="#555"/>
<rect x="1059.7" y="337.3" width="1.4" height="1.4" fill="#555"/>
<rect x="1103.0" y="491.9" width="1.4" height="1.4" fill="#555"/>
<rect x="1106.7" y="455.6" width="1.4" height="1.4" fill="#555"/>
<rect x="1103.6" y="442.2" width="1.4" height="1.4" fill="#555"/>
<rect x="1050.4" y="397.1" width="1.4" height="1.4" fill="#555"/>
<rect x="1062.0" y="297.9" width="1.4" height="1.4" fill="#555"/>
<rect x="1032.5" y="348.7" width="1.4" height="1.4" fill="#555"/>
<rect x="1053.3" y="432.6" width="1.4" height="1.4" fill="#555"/>
<rect x="1116.1" y="382.8" width="1.4" height="1.4" fill="#555"/>
<rect x="1114.3" y="492.6" width="1.4" height="1.4" fill="#555"/>
<rect x="1116.0" y="366.0" width="1.4" height="1.4" fill="#555"/>
<rect x="1049.8" y="338.0" width="1.4" height="1.4" fill="#555"/>
<rect x="1047.7" y="333.5" width="1.4" height="1.4" fill="#555"/>
<rect x="1086.2" y="474.8" width="1.4" height="1.4" fill="#555"/>
<rect x="1105.6" y="389.3" width="1.4" height="1.4" fill="#555"/>
<rect x="1088.8" y="454.3" width="1.4" height="1.4" fill="#555"/>
<rect x="1037.6" y="426.1" width="1.4" height="1.4" fill="#555"/>
<rect x="1111.9" y="450.8" width="1.4" height="1.4" fill="#555"/>
<rect x="1097.5" y="389.0" width="1.4" height="1.4" fill="#555"/>
<rect x="1046.1" y="452.2" width="1.4" height="1.4" fill="#555"/>
<rect x="1059.9" y="454.6" width="1.4" height="1.4" fill="#555"/>
<line x1="1127.2" y1="285.2" x2="1161.9" y2="285.2" stroke="#000" stroke-width="1.3" />
<line x1="1155.2" y1="287" x2="1155.2" y2="499" stroke="#000" stroke-width="1.2" />
<polygon points="1155.2,286.0 1152.9,299.0 1157.5,299.0" fill="#000"/>
<polygon points="1155.2,499.5 1152.9,486.5 1157.5,486.5" fill="#000"/>
<line x1="1182.6" y1="242" x2="1182.6" y2="499" stroke="#000" stroke-width="1.2" />
<polygon points="1182.6,241.5 1180.3,254.5 1184.9,254.5" fill="#000"/>
<polygon points="1182.6,499.5 1180.3,486.5 1184.9,486.5" fill="#000"/>
<line x1="1127.4" y1="500.3" x2="1161.7" y2="500.3" stroke="#000" stroke-width="1.3" />
<line x1="1171.2" y1="500.3" x2="1189.3" y2="500.3" stroke="#000" stroke-width="1.3" />
<text transform="translate(1151.8,408.2) rotate(-90) scale(1.3,1)" font-family="Liberation Sans" font-weight="bold" font-size="16.5">h</text>
<text transform="translate(1179.2,404.4) rotate(-90) scale(1.2,1)" font-family="Liberation Sans" font-weight="bold" font-size="16.5">H</text>
<line x1="99.2" y1="503.6" x2="99.2" y2="548.5" stroke="#000" stroke-width="1.3" />
<line x1="1124.4" y1="505" x2="1124.4" y2="548.5" stroke="#000" stroke-width="1.3" />
<line x1="100" y1="541.9" x2="1124" y2="541.9" stroke="#000" stroke-width="1.3" />
<polygon points="99.6,541.9 112.6,539.6 112.6,544.2" fill="#000"/>
<polygon points="1124.0,541.9 1111.0,539.6 1111.0,544.2" fill="#000"/>
<text x="606.2" y="539" font-family="Liberation Sans" font-weight="bold" font-size="17" textLength="18.6" lengthAdjust="spacingAndGlyphs">L1</text>
<text x="8.4" y="475.4" font-family="Liberation Sans" font-weight="bold" font-size="16.5" textLength="59.6" lengthAdjust="spacingAndGlyphs">±0.000</text>
<line x1="7.2" y1="481.6" x2="75" y2="481.6" stroke="#000" stroke-width="1.3" />
<path d="M 7.2 481.6 L 18.1 500 L 28.2 481.6" stroke="#000" stroke-width="1.3" fill="none" />
<line x1="36.2" y1="500.5" x2="20.3" y2="512.3" stroke="#000" stroke-width="1.2" />
<line x1="40.8" y1="500.5" x2="24.3" y2="516" stroke="#000" stroke-width="1.2" />
<line x1="46.6" y1="500.5" x2="27.8" y2="520" stroke="#000" stroke-width="1.2" />
<line x1="34.7" y1="514.5" x2="42" y2="521.7" stroke="#000" stroke-width="1.2" />
<line x1="38.4" y1="510.9" x2="45.6" y2="518.1" stroke="#000" stroke-width="1.2" />
<rect x="3" y="569.2" width="1186" height="14.1" fill="#8b8b8b"/>
<rect x="3" y="583.3" width="1186" height="50.7" fill="#dedede"/>
<rect x="3" y="634" width="1186" height="39.7" fill="#dedede"/>
<rect x="3" y="673.7" width="1186" height="39.7" fill="#ffffff"/>
<rect x="3" y="713.4" width="1186" height="39" fill="#dedede"/>
<rect x="3" y="633" width="1186" height="2.2" fill="#4a4a4a"/>
<rect x="3" y="751.6" width="1186" height="2.2" fill="#4a4a4a"/>
<rect x="170.5" y="634" width="2.1" height="118" fill="#4a4a4a"/>
<rect x="339.7" y="634" width="2.1" height="118" fill="#4a4a4a"/>
<rect x="509" y="634" width="2.1" height="118" fill="#4a4a4a"/>
<rect x="678.3" y="634" width="2.1" height="118" fill="#4a4a4a"/>
<rect x="848" y="634" width="2.1" height="118" fill="#4a4a4a"/>
<rect x="1017" y="634" width="2.1" height="118" fill="#4a4a4a"/>
<text transform="translate(240,620.8) scale(1,1.12)" x="0" y="0" font-family="Liberation Sans" font-size="28" fill="#111" stroke="#dedede" stroke-width="0.45" textLength="711" lengthAdjust="spacingAndGlyphs">Standard Size of 40T and 60T Batch ball mill (unit:mm)</text>
<text transform="translate(87.2,664.4) scale(1.02,1.055)" x="0" y="0" text-anchor="middle" font-family="Liberation Sans" font-size="28" fill="#111" stroke="#dedede" stroke-width="0.45">Tonnage</text>
<text transform="translate(256.1,664.4) scale(1.02,1.055)" x="0" y="0" text-anchor="middle" font-family="Liberation Sans" font-size="28" fill="#111" stroke="#dedede" stroke-width="0.45">ΦID</text>
<text transform="translate(425.4,664.4) scale(1.02,1.055)" x="0" y="0" text-anchor="middle" font-family="Liberation Sans" font-size="28" fill="#111" stroke="#dedede" stroke-width="0.45">L</text>
<text transform="translate(594.6,664.4) scale(1.02,1.055)" x="0" y="0" text-anchor="middle" font-family="Liberation Sans" font-size="28" fill="#111" stroke="#dedede" stroke-width="0.45" textLength="29.4" lengthAdjust="spacingAndGlyphs">L1</text>
<text transform="translate(764.1,664.4) scale(1.02,1.055)" x="0" y="0" text-anchor="middle" font-family="Liberation Sans" font-size="28" fill="#111" stroke="#dedede" stroke-width="0.45">ΦM</text>
<text transform="translate(933.5,664.4) scale(1.02,1.055)" x="0" y="0" text-anchor="middle" font-family="Liberation Sans" font-size="28" fill="#111" stroke="#dedede" stroke-width="0.45">H</text>
<text transform="translate(1103.5,664.4) scale(1.02,1.055)" x="0" y="0" text-anchor="middle" font-family="Liberation Sans" font-size="28" fill="#111" stroke="#dedede" stroke-width="0.45">h</text>
<text transform="translate(87.2,704.1) scale(1.02,1.055)" x="0" y="0" text-anchor="middle" font-family="Liberation Sans" font-size="28" fill="#111" stroke="#ffffff" stroke-width="0.45">40T</text>
<text transform="translate(256.1,704.1) scale(1.02,1.055)" x="0" y="0" text-anchor="middle" font-family="Liberation Sans" font-size="28" fill="#111" stroke="#ffffff" stroke-width="0.45">3600</text>
<text transform="translate(425.4,704.1) scale(1.02,1.055)" x="0" y="0" text-anchor="middle" font-family="Liberation Sans" font-size="28" fill="#111" stroke="#ffffff" stroke-width="0.45">6800</text>
<text transform="translate(594.6,704.1) scale(1.02,1.055)" x="0" y="0" text-anchor="middle" font-family="Liberation Sans" font-size="28" fill="#111" stroke="#ffffff" stroke-width="0.45" textLength="70.6" lengthAdjust="spacingAndGlyphs">10110</text>
<text transform="translate(764.1,704.1) scale(1.02,1.055)" x="0" y="0" text-anchor="middle" font-family="Liberation Sans" font-size="28" fill="#111" stroke="#ffffff" stroke-width="0.45">500</text>
<text transform="translate(933.5,704.1) scale(1.02,1.055)" x="0" y="0" text-anchor="middle" font-family="Liberation Sans" font-size="28" fill="#111" stroke="#ffffff" stroke-width="0.45">2800</text>
<text transform="translate(1103.5,704.1) scale(1.02,1.055)" x="0" y="0" text-anchor="middle" font-family="Liberation Sans" font-size="28" fill="#111" stroke="#ffffff" stroke-width="0.45">2390</text>
<text transform="translate(87.2,744.1) scale(1.02,1.055)" x="0" y="0" text-anchor="middle" font-family="Liberation Sans" font-size="28" fill="#111" stroke="#dedede" stroke-width="0.45">60T</text>
<text transform="translate(256.1,744.1) scale(1.02,1.055)" x="0" y="0" text-anchor="middle" font-family="Liberation Sans" font-size="28" fill="#111" stroke="#dedede" stroke-width="0.45">3800</text>
<text transform="translate(425.4,744.1) scale(1.02,1.055)" x="0" y="0" text-anchor="middle" font-family="Liberation Sans" font-size="28" fill="#111" stroke="#dedede" stroke-width="0.45">8500</text>
<text transform="translate(594.6,744.1) scale(1.02,1.055)" x="0" y="0" text-anchor="middle" font-family="Liberation Sans" font-size="28" fill="#111" stroke="#dedede" stroke-width="0.45" textLength="71.1" lengthAdjust="spacingAndGlyphs">11750</text>
<text transform="translate(764.1,744.1) scale(1.02,1.055)" x="0" y="0" text-anchor="middle" font-family="Liberation Sans" font-size="28" fill="#111" stroke="#dedede" stroke-width="0.45">600</text>
<text transform="translate(933.5,744.1) scale(1.02,1.055)" x="0" y="0" text-anchor="middle" font-family="Liberation Sans" font-size="28" fill="#111" stroke="#dedede" stroke-width="0.45">2980</text>
<text transform="translate(1103.5,744.1) scale(1.02,1.055)" x="0" y="0" text-anchor="middle" font-family="Liberation Sans" font-size="28" fill="#111" stroke="#dedede" stroke-width="0.45">2540</text>
</svg>
</body></html>
